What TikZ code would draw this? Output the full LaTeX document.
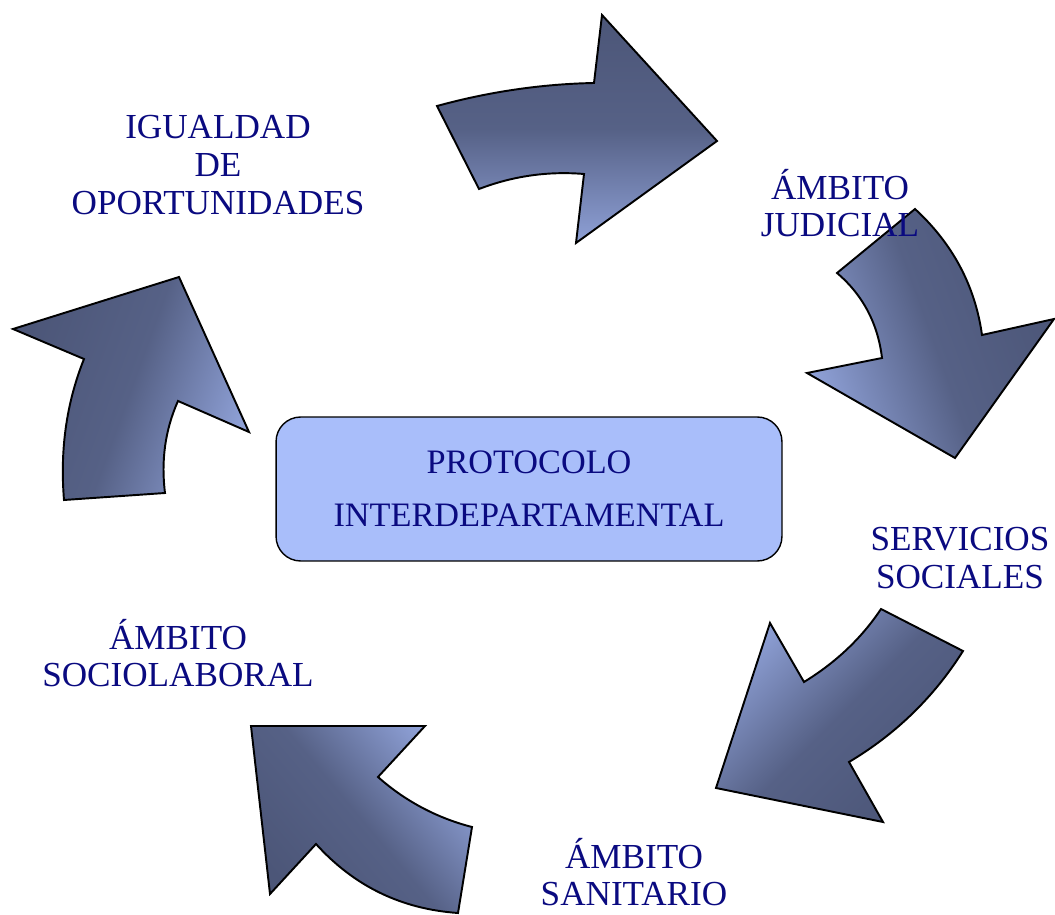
\documentclass[tikz,border=0pt]{standalone}
\usepackage{fontspec}
\setmainfont{Liberation Serif}
\usetikzlibrary{positioning}
\definecolor{azul}{RGB}{10,10,128}
\definecolor{oscuro}{RGB}{76,86,120}
\definecolor{claro}{RGB}{142,160,214}
\definecolor{caja}{RGB}{169,190,250}

\begin{document}
\begin{tikzpicture}[x=0.02cm,y=-0.02cm,
  txt/.style={text=azul,font=\fontsize{20}{21.5}\selectfont,align=center},
  flecha/.style={draw=black,line width=1.1pt,line join=miter},
  medio/.style={middle color=oscuro!85!claro}]
\useasboundingbox (0,0) rectangle (1055,915);
% flechas del ciclo
\shade[flecha,top color=oscuro,bottom color=claro,medio] (437,106) -- (479,189) .. controls (513,176) and (548,171) .. (584,174) -- (576,243) -- (717,141) -- (602,15) -- (594,83) .. controls (541,84) and (488,92) .. (437,106) -- cycle;
\shade[flecha,top color=oscuro,bottom color=claro,medio,shading angle=-70] (915,209) -- (837,273) .. controls (863,295) and (878,324) .. (882,358) -- (807,373) -- (955,458) -- (1054,319) -- (982,335) .. controls (975,285) and (952,243) .. (915,209) -- cycle;
\shade[flecha,top color=claro,bottom color=oscuro,medio,shading angle=45] (881,609) -- (963,651) .. controls (934,697) and (896,734) .. (849,762) -- (883,822) -- (716,788) -- (770,623) -- (804,682) .. controls (835,663) and (861,639) .. (881,609) -- cycle;
\shade[flecha,top color=claro,bottom color=oscuro,medio,shading angle=-50] (251,726) -- (425,726) -- (378,777) .. controls (405,801) and (437,818) .. (472,827) -- (458,913) .. controls (401,909) and (354,886) .. (316,844) -- (270,894) -- cycle;
\shade[flecha,top color=oscuro,bottom color=claro,medio,shading angle=70] (13,329) -- (179,277) -- (249,432) -- (178,401) .. controls (165,430) and (161,461) .. (165,493) -- (64,500) .. controls (60,451) and (66,404) .. (84,359) -- cycle;
% caja central
\node[txt,font=\fontsize{19.5}{21.5}\selectfont,draw=black,line width=0.8pt,fill=caja,rounded corners=14pt,minimum width=10.12cm,minimum height=2.88cm] (pr) at (529,489) {PROTOCOLO\\[8.5pt]INTERDEPARTAMENTAL};
% textos
\node[txt] (ig) at (218,165) {IGUALDAD\\DE\\OPORTUNIDADES};
\node[txt] (ju) at (840,203) {ÁMBITO\\JUDICIAL};
\node[txt] (ss) at (960,558) {SERVICIOS\\SOCIALES};
\node[txt] (sa) at (634,872) {ÁMBITO\\SANITARIO};
\node[txt] (so) at (178,653) {ÁMBITO\\SOCIOLABORAL};
\end{tikzpicture}
\end{document}
